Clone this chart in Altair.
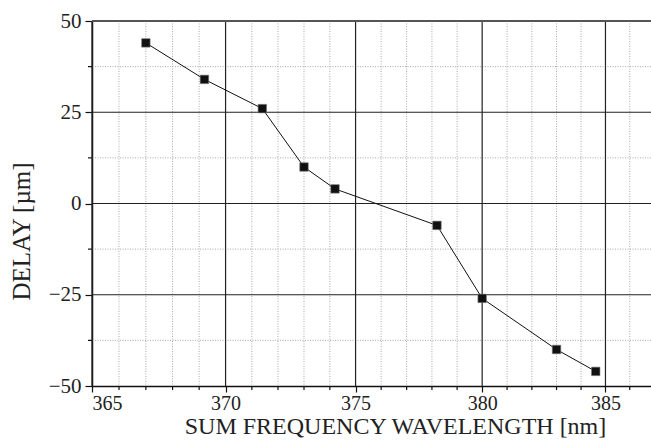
import altair as alt
import pandas as pd

# Data
wavelength = [367.0, 369.2, 371.4, 373.0, 374.2, 378.2, 380.0, 383.0, 384.6]
delay = [44, 34, 26, 10, 4, -6, -26, -40, -46]

major_x = [365, 370, 375, 380, 385]
minor_x = [366, 367, 368, 369, 371, 372, 373, 374, 376, 377, 378, 379,
           381, 382, 383, 384, 386]
major_y = [-50, -25, 0, 25, 50]
minor_y = [-37.5, -12.5, 12.5, 37.5]

df = pd.DataFrame({"wl": wavelength, "delay": delay})
dmx = pd.DataFrame({"v": major_x})
dnx = pd.DataFrame({"v": minor_x})
dmy = pd.DataFrame({"v": [-25, 0, 25]})
dny = pd.DataFrame({"v": minor_y})
dtop = pd.DataFrame({"v": [50]})

W, H = 559, 365
xscale = alt.Scale(type="pow", exponent=-1, domain=[365, 386.88], nice=False, zero=False)
yscale = alt.Scale(domain=[-50, 50], nice=False, zero=False)

FONT = "Liberation Serif"

xaxis = alt.Axis(
    values=major_x,
    title="SUM FREQUENCY WAVELENGTH [nm]",
    format="d",
    grid=False,
    tickSize=6,
    tickColor="#111",
    tickWidth=1.2,
    domainColor="#111",
    domainWidth=1.5,
    labelFontSize=20,
    labelColor="#222",
    labelPadding=1,
    labelFont=FONT,
    titleFont=FONT,
    titleFontSize=24,
    titleFontWeight="normal",
    titleColor="#222",
    titleX=303,
    titleY=47,
    titleAlign="center",
    titleBaseline="alphabetic",
    labelOverlap=False,
)
yaxis = alt.Axis(
    values=major_y,
    title="DELAY [µm]",
    grid=False,
    tickSize=7,
    tickColor="#111",
    tickWidth=1.2,
    domainColor="#111",
    domainWidth=1.5,
    labelFontSize=21,
    labelColor="#222",
    labelPadding=4,
    labelFont=FONT,
    titleFont=FONT,
    titleFontSize=25,
    titleFontWeight="normal",
    titleColor="#222",
    titleAngle=-90,
    titleX=-71,
    titleY=210,
    titleAlign="center",
    titleBaseline="middle",
    labelOverlap=False,
)

minor_vx = alt.Chart(dnx).mark_rule(color="#aaaaaa", strokeDash=[1, 1.5], strokeWidth=1).encode(
    x=alt.X("v:Q", scale=xscale, axis=xaxis))
minor_hy = alt.Chart(dny).mark_rule(color="#aaaaaa", strokeDash=[1, 1.5], strokeWidth=1).encode(
    y=alt.Y("v:Q", scale=yscale, axis=yaxis))
major_vx = alt.Chart(dmx).mark_rule(color="#222222", strokeWidth=1.2).encode(
    x=alt.X("v:Q", scale=xscale, axis=xaxis))
major_hy = alt.Chart(dmy).mark_rule(color="#222222", strokeWidth=1.2).encode(
    y=alt.Y("v:Q", scale=yscale, axis=yaxis))
top_line = alt.Chart(dtop).mark_rule(color="#555555", strokeWidth=2.2).encode(
    y=alt.Y("v:Q", scale=yscale, axis=yaxis))

# minor tick marks outside the plot area
minor_tick_x = alt.Chart(dnx).mark_rule(color="#111111", strokeWidth=1.2).encode(
    x=alt.X("v:Q", scale=xscale, axis=xaxis), y=alt.value(H), y2=alt.value(H + 4))
minor_tick_y = alt.Chart(dny).mark_rule(color="#111111", strokeWidth=1.2).encode(
    y=alt.Y("v:Q", scale=yscale, axis=yaxis), x=alt.value(-4), x2=alt.value(0))

line = alt.Chart(df).mark_line(color="#111111", strokeWidth=1).encode(
    x=alt.X("wl:Q", scale=xscale, axis=xaxis),
    y=alt.Y("delay:Q", scale=yscale, axis=yaxis),
    order="wl:Q",
)
points = alt.Chart(df).mark_point(shape="square", filled=True, size=72, color="#111111",
                                  opacity=1, stroke="#777777", strokeWidth=0.6).encode(
    x=alt.X("wl:Q", scale=xscale, axis=xaxis),
    y=alt.Y("delay:Q", scale=yscale, axis=yaxis),
)

chart = alt.layer(minor_vx, minor_hy, major_vx, major_hy, top_line,
                  minor_tick_x, minor_tick_y, line, points).properties(
    width=W, height=H,
    padding={"left": 92, "top": 21, "right": 0, "bottom": 62},
    autosize=alt.AutoSizeParams(type="none"),
    background="white",
).configure_view(stroke=None)

chart.save("out.html", embed_options={"renderer": "svg", "actions": False})
